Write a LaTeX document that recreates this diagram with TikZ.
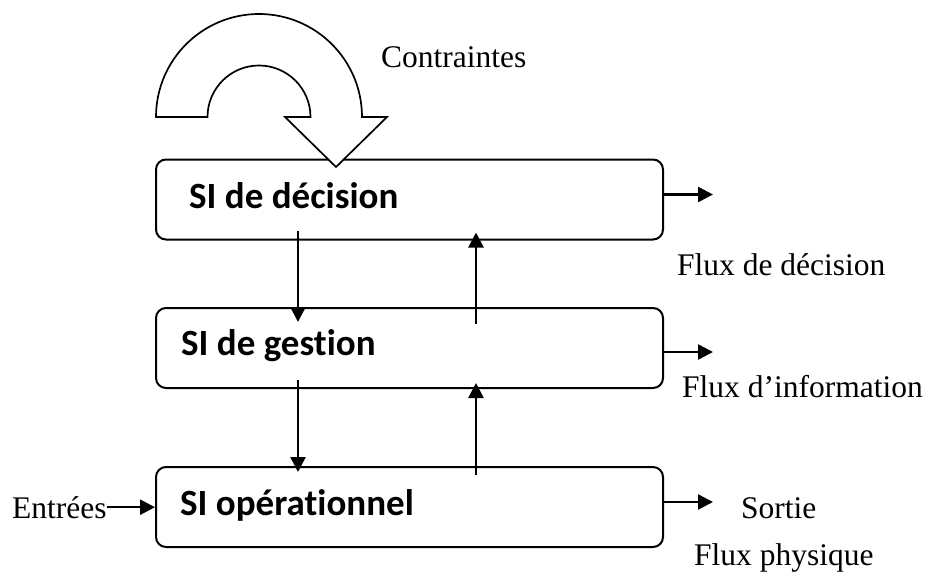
\documentclass[tikz,border=0pt]{standalone}
\usepackage{fontspec}
\setmainfont{Liberation Serif}
\newfontfamily\calibrifont[Ligatures=NoCommon]{Carlito}
\usetikzlibrary{arrows.meta}

\tikzset{
  sibox/.style={draw, line width=2pt, rounded corners=10pt,
    minimum width=507pt, minimum height=80pt, inner sep=0pt},
  silabel/.style={anchor=base west, inner sep=0pt,
    font=\calibrifont\bfseries\fontsize{37}{44}\selectfont},
  flowlabel/.style={anchor=base west, inner sep=0pt,
    font=\fontsize{31.5}{38}\selectfont},
  arr/.style={line width=2.5pt, -{Triangle[length=15pt,width=15pt]}},
  bigarrow/.style={draw, fill=white, line width=1.7pt, line join=miter}
}

\begin{document}
\begin{tikzpicture}[x=1pt, y=-1pt]
\useasboundingbox (0,0) rectangle (928,586);

% the three levels of the information system
\node[sibox] (dec) at (409.5,199.5) {};
\node[sibox] (ges) at (409.5,348) {};
\node[sibox] (ope) at (409.5,507) {};

\node[silabel] (tdec) at (189,208) {SI de décision};
\node[silabel] (tges) at (181,355) {SI de gestion};
\node[silabel] (tope) at (180,515) {SI opérationnel};

% curved block arrow bringing the constraints onto the decision level
\path[bigarrow] (156,117) arc[start angle=180, end angle=360, radius=103]
  -- (387,117) -- (336,167) -- (285,117) -- (310.5,117)
  arc[start angle=360, end angle=180, radius=51.5] -- cycle;
\node[flowlabel] (contr) at (381,67) {Contraintes};

% flows between the levels
\draw[arr] ([xshift=-111.5pt,yshift=10pt]dec.south) -- ([xshift=-111.5pt,yshift=-15pt]ges.north);
\draw[arr] ([xshift=66.5pt,yshift=-17pt]ges.north) -- ([xshift=66.5pt,yshift=8pt]dec.south);
\draw[arr] ([xshift=-111.5pt,yshift=9pt]ges.south) -- ([xshift=-111.5pt,yshift=-6pt]ope.north);
\draw[arr] ([xshift=66.5pt,yshift=-9pt]ope.north) -- ([xshift=66.5pt,yshift=6pt]ges.south);

% outgoing flows
\coordinate (odec) at (713,194.5);
\coordinate (oges) at (713,352);
\coordinate (oope) at (713,502);
\draw[arr] (dec.east |- odec) -- (odec);
\draw[arr] (ges.east |- oges) -- (oges);
\draw[arr] (ope.east |- oope) -- (oope);

\node[flowlabel] (fdec) at (677,275) {Flux de décision};
\node[flowlabel] (fges) at (682,397) {Flux d’information};
\node[flowlabel] (sort) at (741,518) {Sortie};
\node[flowlabel] (fphy) at (694,565) {Flux physique};

% inputs
\node[flowlabel] (ent) at (12,518) {Entrées};
\draw[arr] (ent.east) -- (ent.east -| ope.west);
\end{tikzpicture}
\end{document}
